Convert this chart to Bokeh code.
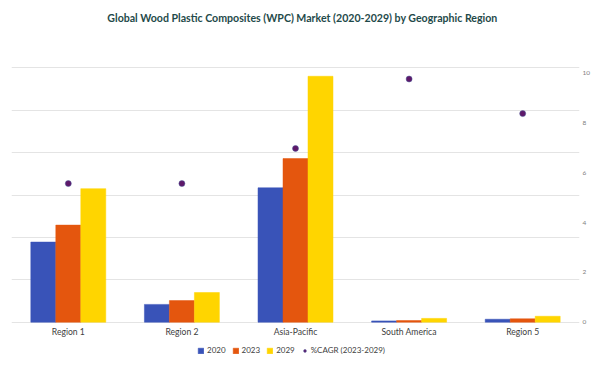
from bokeh.plotting import figure
from bokeh.models import (ColumnDataSource, FactorRange, Range1d, LinearAxis, FixedTicker,
                          Legend, LegendItem, Label)
from bokeh.core.properties import value
from bokeh.transform import dodge
from bokeh.embed import file_html
from bokeh.resources import INLINE

TITLE = "Global Wood Plastic Composites (WPC) Market (2020-2029) by Geographic Region"
regions = ["Region 1", "Region 2", "Asia-Pacific", "South America", "Region 5"]
v2020 = [1.89, 0.42, 3.17, 0.03, 0.07]
v2023 = [2.29, 0.51, 3.86, 0.04, 0.08]
v2029 = [3.15, 0.70, 5.80, 0.09, 0.14]
cagr = [5.57, 5.57, 6.98, 9.77, 8.38]
left_ticks = [0, 1, 2, 3, 4, 5, 6]
right_ticks = [0, 2, 4, 6, 8, 10]

src = ColumnDataSource(dict(region=regions, v2020=v2020, v2023=v2023, v2029=v2029, cagr=cagr))

FONT = "Lato"
# the plotting frame covers the whole canvas; the value axes occupy the middle band
LEFT_TOP = 7.587
LEFT_BOTTOM = -1.068
RATIO = 10.22 / 6.0
RIGHT_TOP = LEFT_TOP * RATIO
RIGHT_BOTTOM = LEFT_BOTTOM * RATIO

p = figure(width=600, height=367, x_range=FactorRange(factors=regions),
           y_range=Range1d(LEFT_BOTTOM, LEFT_TOP),
           output_backend="svg", toolbar_location=None, min_border_left=11, min_border_right=21,
           min_border_top=0, min_border_bottom=0)
p.outline_line_color = None
p.background_fill_color = "white"
p.border_fill_color = "white"

p.extra_y_ranges = {"cagr": Range1d(RIGHT_BOTTOM, RIGHT_TOP)}

r1 = p.vbar(x=dodge("region", -0.22, range=p.x_range), top="v2020", width=0.22, source=src,
            fill_color="#3953B8", line_color="#3953B8", line_width=0.5)
r2 = p.vbar(x=dodge("region", 0.0, range=p.x_range), top="v2023", width=0.22, source=src,
            fill_color="#E4560E", line_color="#E4560E", line_width=0.5)
r3 = p.vbar(x=dodge("region", 0.22, range=p.x_range), top="v2029", width=0.22, source=src,
            fill_color="#FFD500", line_color="#FFD500", line_width=0.5)
r4 = p.scatter(x="region", y="cagr", source=src, y_range_name="cagr", size=6,
               fill_color="#5E1869", line_color="#4A5A9A", line_width=0.5)

# category labels under the zero line
p.text(x="region", y=-0.24, text="region", source=src, text_align="center",
       text_baseline="middle", text_font=value(FONT), text_font_size="8.6px",
       text_color="#404040")

# title
p.add_layout(Label(x=291, y=350, x_units="screen", y_units="screen", text=TITLE,
                   text_align="center", text_baseline="middle", text_font=FONT,
                   text_font_size="10.6px", text_font_style="bold", text_color="#1F4A4A"))

# axes
p.yaxis.visible = False
p.xaxis.visible = False
p.ygrid.grid_line_color = "#E4E4E4"
p.ygrid.ticker = FixedTicker(ticks=left_ticks)
p.xgrid.grid_line_color = None

rax = LinearAxis(y_range_name="cagr", ticker=FixedTicker(ticks=right_ticks))
rax.axis_line_color = None
rax.major_tick_line_color = None
rax.minor_tick_line_color = None
rax.major_tick_out = 0
rax.major_tick_in = 0
rax.minor_tick_out = 0
rax.major_label_text_font = FONT
rax.major_label_text_font_size = "6.5px"
rax.major_label_text_color = "#808080"
rax.major_label_standoff = 3
p.add_layout(rax, "right")

legend = Legend(items=[LegendItem(label="2020", renderers=[r1]),
                       LegendItem(label="2023", renderers=[r2]),
                       LegendItem(label="2029", renderers=[r3]),
                       LegendItem(label="%CAGR (2023-2029)", renderers=[r4])],
                orientation="horizontal", location=(186, 12),
                label_text_font=FONT, label_text_font_size="8px", label_text_color="#404040",
                label_height=10, label_width=15, glyph_width=7, glyph_height=7,
                label_standoff=3, spacing=6,
                border_line_color=None, background_fill_alpha=0, padding=2, margin=0)
p.add_layout(legend, "center")

open("out.html", "w").write(file_html(p, INLINE))
